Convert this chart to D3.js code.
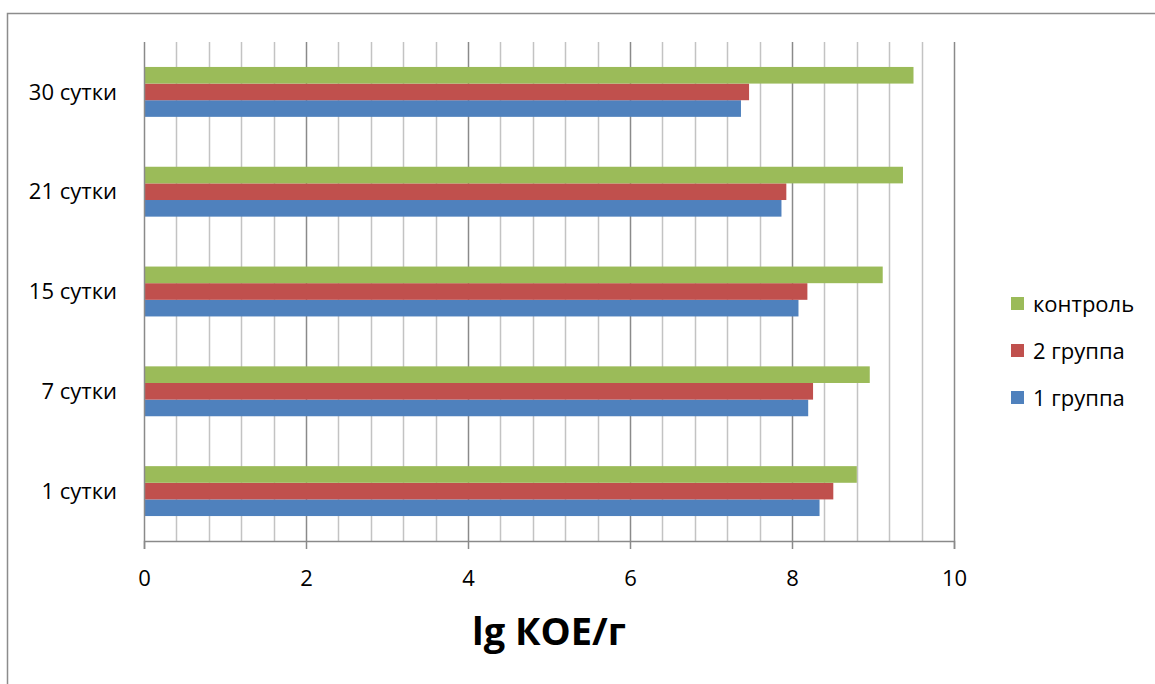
<!DOCTYPE html>
<html>
<head>
<meta charset="utf-8">
<script src="https://cdn.jsdelivr.net/npm/d3@7"></script>
<style>
  html, body { margin: 0; padding: 0; background: #fff; }
  svg { display: block; }
  text { font-family: "Open Sans", "Liberation Sans", sans-serif; fill: #000; }
</style>
</head>
<body>
<svg id="chart" width="1155" height="684"></svg>
<script>
// Sampling days (bottom to top on the chart)
const categories = ["1 сутки", "7 сутки", "15 сутки", "21 сутки", "30 сутки"];
// Series, in order from the bottom bar of each group to the top bar
const seriesNames = ["1 группа", "2 группа", "контроль"];
const group1 = [8.34, 8.20, 8.08, 7.87, 7.37];
const group2 = [8.51, 8.26, 8.19, 7.93, 7.47];
const control = [8.80, 8.96, 9.12, 9.37, 9.50];
const seriesColors = ["#4F81BD", "#C0504D", "#9BBB59"];
const xTicks = [0, 2, 4, 6, 8, 10];
const axisTitle = "lg КОЕ/г";

const seriesValues = [group1, group2, control];

const svg = d3.select("#chart");
const plot = { left: 144, right: 954, top: 42, bottom: 541 };
const labelSize = 22;

// Outer frame
svg.append("path")
  .attr("d", "M7.5,690 L7.5,13.5 L1160,13.5")
  .attr("fill", "none")
  .attr("stroke", "#8c8c8c")
  .attr("stroke-width", 1.5);

const x = d3.scaleLinear().domain([0, 10]).range([plot.left, plot.right]);

// Category bands, first category at the bottom
const y = d3.scaleBand()
  .domain(categories)
  .range([plot.bottom, plot.top])
  .paddingInner(0.5)
  .paddingOuter(0.25);

// Within each band: series stacked from the bottom up (1 группа lowest)
const ySub = d3.scaleBand()
  .domain(d3.range(seriesNames.length))
  .range([y.bandwidth(), 0]);

// Minor vertical gridlines every 0.4
const minor = d3.range(0.4, 10.001, 0.4).map(v => +v.toFixed(1)).filter(v => Math.abs(v / 2 - Math.round(v / 2)) > 1e-6);
svg.append("g").selectAll("line").data(minor).join("line")
  .attr("x1", d => Math.round(x(d)) + 0.5).attr("x2", d => Math.round(x(d)) + 0.5)
  .attr("y1", plot.top).attr("y2", plot.bottom)
  .attr("stroke", "#c3c3c3").attr("stroke-width", 1.5);

// Major gridlines at the labelled ticks
svg.append("g").selectAll("line").data(xTicks.slice(1)).join("line")
  .attr("x1", d => Math.round(x(d)) + 0.5).attr("x2", d => Math.round(x(d)) + 0.5)
  .attr("y1", plot.top).attr("y2", plot.bottom)
  .attr("stroke", "#8a8a8a").attr("stroke-width", 1.5);

// Bars
const groups = svg.append("g").selectAll("g").data(categories).join("g")
  .attr("transform", d => `translate(0,${y(d)})`);
groups.selectAll("rect")
  .data((c, ci) => seriesValues.map((vals, si) => ({ si, v: vals[ci] })))
  .join("rect")
  .attr("x", x(0))
  .attr("y", d => ySub(d.si))
  .attr("width", d => x(d.v) - x(0))
  .attr("height", ySub.bandwidth())
  .attr("fill", d => seriesColors[d.si]);

// Bottom axis
const xAxis = d3.axisBottom(x).tickValues(xTicks).tickSize(8).tickPadding(21).tickFormat(d3.format("d"));
const gx = svg.append("g").attr("transform", `translate(0,${plot.bottom})`).call(xAxis);
gx.attr("font-size", labelSize).attr("font-family", "'Open Sans', sans-serif");
gx.select(".domain").attr("stroke", "#8a8a8a").attr("stroke-width", 1.5);
gx.selectAll(".tick line").attr("stroke", "#8a8a8a").attr("stroke-width", 1.5);
gx.selectAll(".tick text").attr("fill", "#000");

// Left axis line
svg.append("line")
  .attr("x1", plot.left + 0.5).attr("x2", plot.left + 0.5)
  .attr("y1", plot.top).attr("y2", plot.bottom)
  .attr("stroke", "#8a8a8a").attr("stroke-width", 1.5);

// Category labels
svg.append("g").selectAll("text").data(categories).join("text")
  .attr("x", 117)
  .attr("y", d => y(d) + y.bandwidth() / 2)
  .attr("dy", "0.35em")
  .attr("text-anchor", "end")
  .attr("font-size", labelSize)
  .text(d => d);

// Legend (top entry = last series)
const legendOrder = d3.range(seriesNames.length).reverse();
const legend = svg.append("g").selectAll("g").data(legendOrder).join("g")
  .attr("transform", (d, i) => `translate(1011,${304 + i * 47})`);
legend.append("rect")
  .attr("x", 0).attr("y", -7).attr("width", 13).attr("height", 13)
  .attr("fill", d => seriesColors[d]);
legend.append("text")
  .attr("x", 22).attr("y", 0).attr("dy", "0.35em")
  .attr("font-size", labelSize)
  .text(d => seriesNames[d]);

// Axis title
svg.append("text")
  .attr("x", x(5)).attr("y", 632)
  .attr("dy", "0.35em")
  .attr("text-anchor", "middle")
  .attr("font-size", 38)
  .attr("font-weight", "bold")
  .text(axisTitle);
</script>
</body>
</html>
